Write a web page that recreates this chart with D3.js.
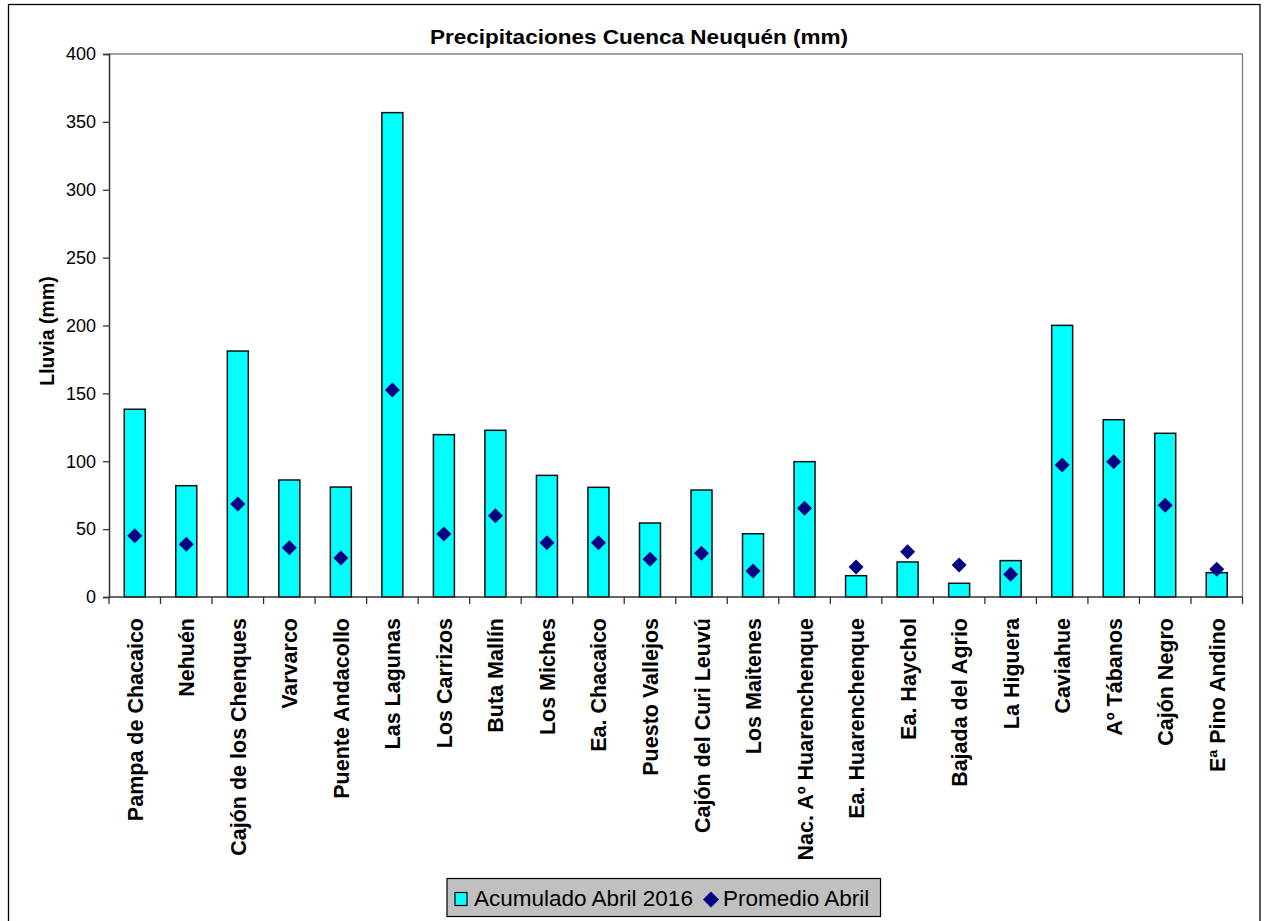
<!DOCTYPE html>
<html><head><meta charset="utf-8">
<script src="https://cdn.jsdelivr.net/npm/d3@7"></script>
<style>body{margin:0;background:#fff;}svg{display:block;font-family:"Liberation Sans",Arial,sans-serif;}</style>
</head><body>
<svg id="c" width="1266" height="921"></svg>
<script>
const categories = ["Pampa de Chacaico","Nehuén","Cajón de los Chenques","Varvarco","Puente Andacollo","Las Lagunas","Los Carrizos","Buta Mallín","Los Miches","Ea. Chacaico","Puesto Vallejos","Cajón del Curi Leuvú","Los Maitenes","Nac. Aº Huarenchenque","Ea. Huarenchenque","Ea. Haychol","Bajada del Agrio","La Higuera","Caviahue","Aº Tábanos","Cajón Negro","Eª Pino Andino"];
const acumulado = [138.3,82,181.2,86.2,81,356.8,119.6,122.8,89.6,80.8,54.5,78.8,46.6,99.7,15.7,25.8,10.1,26.8,200.1,130.6,120.6,17.9];
const promedio = [45.2,38.8,68.5,36.3,28.7,152.5,46.4,59.9,40,40,27.8,32.2,19.2,65.3,22.1,33.4,23.6,16.7,97.2,99.7,67.5,20.4];
const yTicks = [0,50,100,150,200,250,300,350,400];
const title = "Precipitaciones Cuenca Neuquén (mm)";
const yTitle = "Lluvia (mm)";
const seriesNames = ["Acumulado Abril 2016","Promedio Abril"];

const svg = d3.select("#c");
const L=109, R=1242.5, T=54, B=597;
// outer frame
svg.append("rect").attr("x",8.5).attr("y",4.5).attr("width",1251.5).attr("height",930).attr("fill","none").attr("stroke","#000").attr("stroke-width",1.3);

const x = d3.scaleBand().domain(categories).range([L,R]).paddingInner(0).paddingOuter(0);
const y = d3.scaleLinear().domain([0,400]).range([B,T]);

// plot border top/right
svg.append("line").attr("x1",L).attr("x2",R).attr("y1",T).attr("y2",T).attr("stroke","#808080").attr("stroke-width",1.3);
svg.append("line").attr("x1",R).attr("x2",R).attr("y1",T).attr("y2",B).attr("stroke","#808080").attr("stroke-width",1.3);

const bw = 21;
svg.append("g").selectAll("rect").data(categories).join("rect")
  .attr("x",(d)=>x(d)+x.bandwidth()/2-bw/2)
  .attr("y",(d,i)=>y(acumulado[i]))
  .attr("width",bw)
  .attr("height",(d,i)=>y(0)-y(acumulado[i]))
  .attr("fill","#00FFFF").attr("stroke","#111").attr("stroke-width",1.5);

const dsz=7.5;
svg.append("g").selectAll("path").data(categories).join("path")
  .attr("d",(d,i)=>{const cx=x(d)+x.bandwidth()/2, cy=y(promedio[i]);return `M${cx},${cy-dsz}L${cx+dsz},${cy}L${cx},${cy+dsz}L${cx-dsz},${cy}Z`;})
  .attr("fill","#000080");

// y axis
const ya = svg.append("g").attr("transform",`translate(${L},0)`)
  .call(d3.axisLeft(y).tickValues(yTicks).tickSize(6).tickPadding(7));
ya.select(".domain").attr("stroke","#333").attr("stroke-width",1.5);
ya.selectAll(".tick line").attr("stroke","#333").attr("stroke-width",1.3);
ya.selectAll("text").attr("font-size",18).attr("fill","#000").attr("font-family","Liberation Sans, Arial, sans-serif");

// x axis ticks at band boundaries
const xa = svg.append("g").attr("transform",`translate(0,${B})`);
xa.append("line").attr("x1",L).attr("x2",R).attr("stroke","#333").attr("stroke-width",1.5);
const bounds = categories.map(d=>x(d)).concat([R]);
xa.selectAll("line.t").data(bounds).join("line").attr("class","t")
  .attr("x1",d=>d).attr("x2",d=>d).attr("y1",0).attr("y2",7).attr("stroke","#333").attr("stroke-width",1.3);
xa.selectAll("text").data(categories).join("text")
  .attr("transform",d=>`translate(${x(d)+x.bandwidth()/2+8},${21}) rotate(-90)`)
  .attr("text-anchor","end").attr("font-size",21.5).attr("font-weight","bold").text(d=>d);

// title
svg.append("text").attr("x",639).attr("y",44).attr("text-anchor","middle").attr("font-size",20)
  .attr("textLength",418).attr("lengthAdjust","spacingAndGlyphs").attr("font-weight","bold").text(title);
// y title
svg.append("text").attr("transform",`translate(54,331) rotate(-90)`).attr("text-anchor","middle").attr("font-size",19.5).attr("font-weight","bold").text(yTitle);

// legend
const lg = svg.append("g");
lg.append("rect").attr("x",447).attr("y",878.5).attr("width",433.5).attr("height",38).attr("fill","#c0c0c0").attr("stroke","#000").attr("stroke-width",1.2);
lg.append("rect").attr("x",455).attr("y",892.5).attr("width",12).attr("height",13).attr("fill","#00FFFF").attr("stroke","#000").attr("stroke-width",1.2);
lg.append("text").attr("x",474).attr("y",906).attr("font-size",22.5).text(seriesNames[0]);
lg.append("path").attr("d",`M711,891.5L719,899.5L711,907.5L703,899.5Z`).attr("fill","#000080");
lg.append("text").attr("x",723).attr("y",906).attr("font-size",22.5).text(seriesNames[1]);
</script>
</body></html>
